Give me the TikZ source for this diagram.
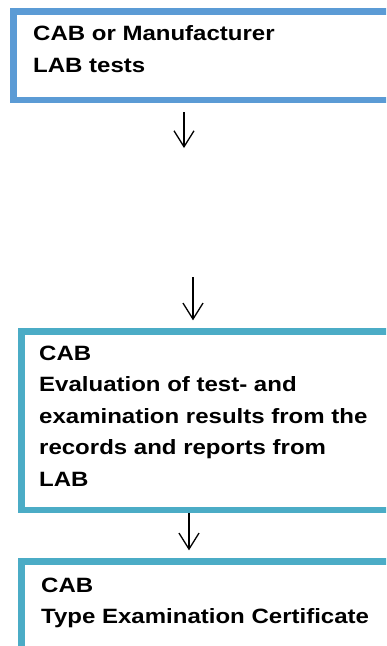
\documentclass[tikz,border=0pt]{standalone}
\usepackage{fontspec}
\setmainfont{Liberation Sans}[FakeStretch=1.16]
\usetikzlibrary{arrows.meta}
\definecolor{boxblue}{HTML}{5B9BD5}
\definecolor{boxteal}{HTML}{4BACC6}
\tikzset{
  flowbox/.style={rectangle, line width=6.5pt, fill=white, inner sep=0pt, anchor=north west},
  boxtext/.style={anchor=base west, inner sep=0pt, font=\bfseries\fontsize{20.7}{31.5}\selectfont},
  flowarrow/.style={-{Straight Barb[length=16pt,width=20pt,line width=1.3pt]}, line width=1.3pt}
}
\begin{document}
\begin{tikzpicture}[x=1pt,y=-1pt]
\useasboundingbox (0,0) rectangle (386,646);
\clip (0,0) rectangle (386,646);
\fill[white] (0,0) rectangle (386,646);
% boxes
\node[flowbox, draw=boxblue, minimum width=400pt, minimum height=88.4pt] (lab) at (10.3,8.3) {};
\node[flowbox, draw=boxteal, minimum width=400pt, minimum height=178.4pt] (eval) at (18.3,328.3) {};
\node[flowbox, draw=boxteal, minimum width=400pt, minimum height=89.4pt] (cert) at (18.3,558.3) {};
% texts
\node[boxtext] (labtxt) at (33,40.7) {\begin{tabular}[t]{@{}l@{}}CAB or Manufacturer\\LAB tests\end{tabular}};
\node[boxtext] (evaltxt) at (39,360) {\begin{tabular}[t]{@{}l@{}}CAB\\Evaluation of test- and\\examination results from the\\records and reports from\\LAB\end{tabular}};
\node[boxtext] (certtxt) at (41,592) {\begin{tabular}[t]{@{}l@{}}CAB\\Type Examination Certificate\end{tabular}};
% arrows
\coordinate (a1e) at (184,148);
\coordinate (a2s) at (193,277);
\coordinate (a3) at (189,0);
\draw[flowarrow, shorten <=9pt] (a1e |- lab.south) -- (a1e);
\draw[flowarrow, shorten >=8pt] (a2s) -- (a2s |- eval.north);
\draw[flowarrow, shorten <=0pt, shorten >=8pt] (a3 |- eval.south) -- (a3 |- cert.north);
\end{tikzpicture}
\end{document}
